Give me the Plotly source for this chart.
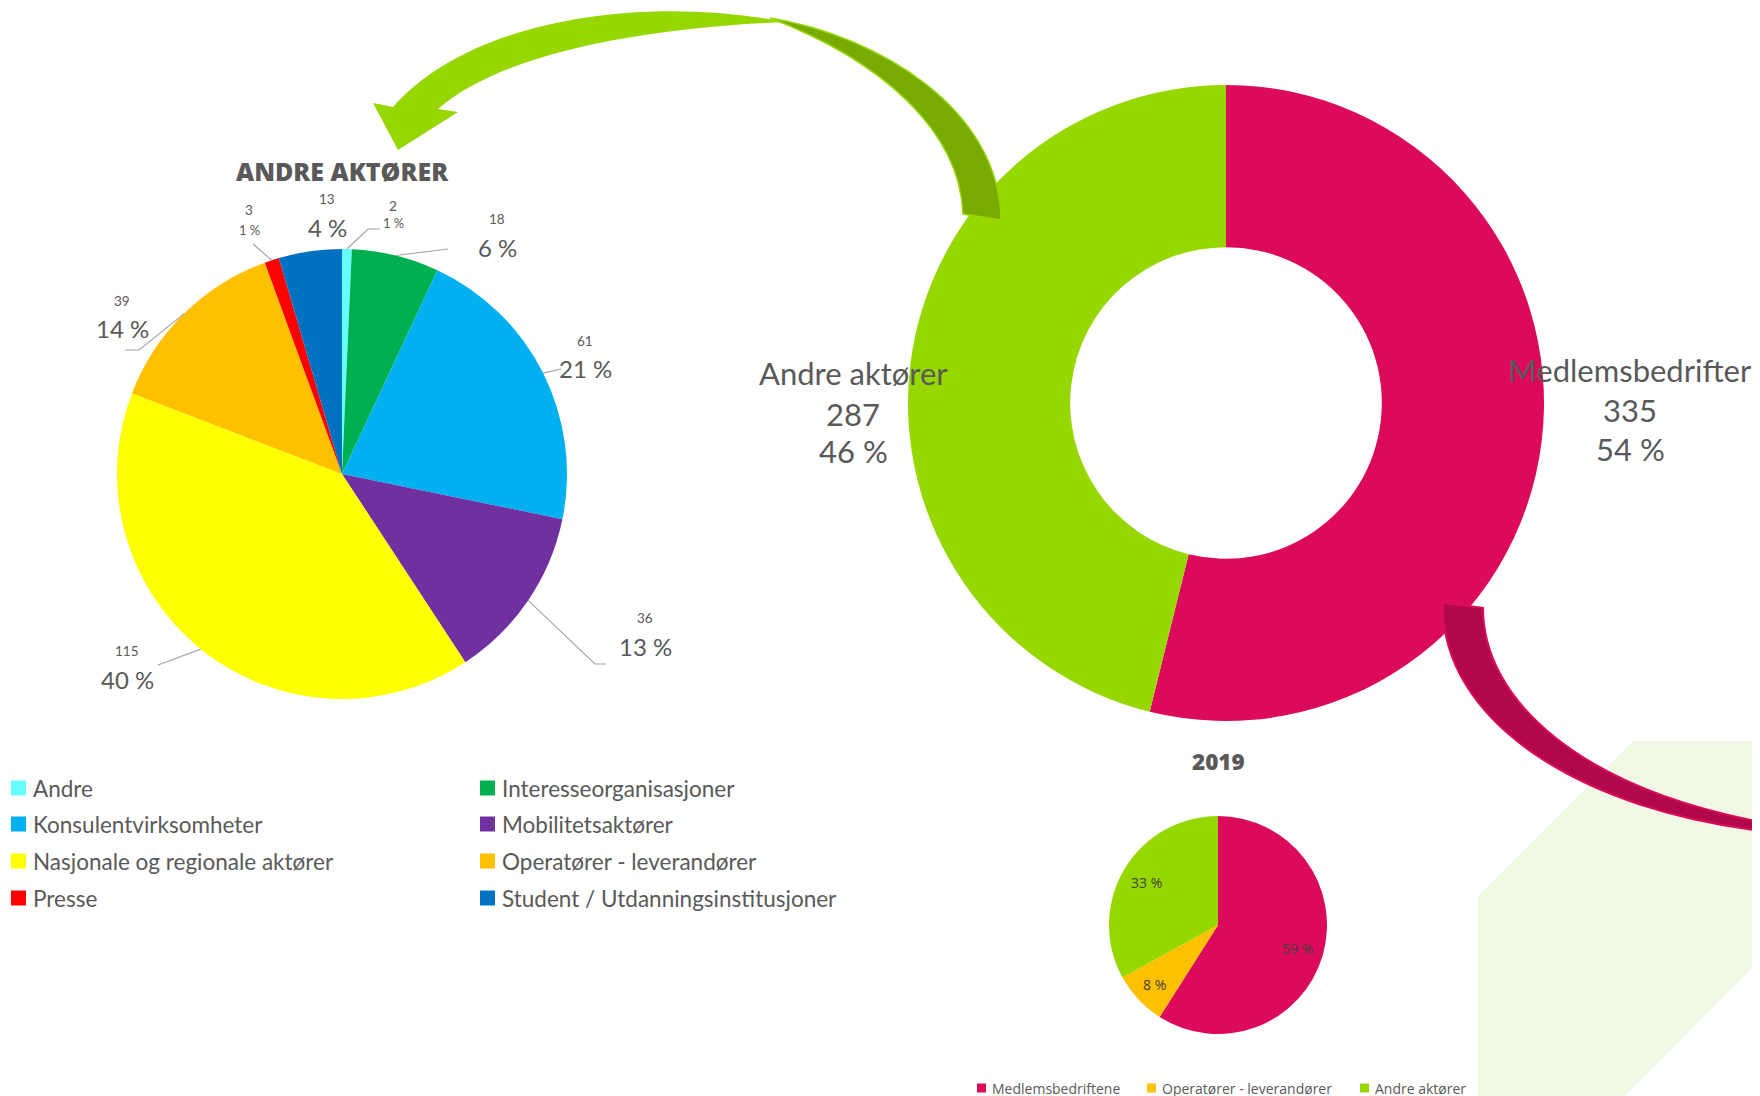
import math
import plotly.graph_objects as go

W, H = 1760, 1096
OFF = 8  # the page body margin that offsets the plot inside the window

# ---------------- data ----------------
andre_categories = ["Andre", "Interesseorganisasjoner", "Konsulentvirksomheter", "Mobilitetsaktører",
                    "Nasjonale og regionale aktører", "Operatører - leverandører", "Presse",
                    "Student / Utdanningsinstitusjoner"]
andre_values = [2, 18, 61, 36, 115, 39, 3, 13]
andre_pct_labels = [1, 6, 21, 13, 40, 14, 1, 4]
andre_colors = ["#66FFFF", "#00B050", "#00B0F0", "#7030A0", "#FFFF00", "#FFC000", "#FF0000", "#0070C0"]

total_categories = ["Medlemsbedrifter", "Andre aktører"]
total_values = [335, 287]
total_pct_labels = [54, 46]
total_colors = ["#DC0A5A", "#96D700"]

y2019_categories = ["Medlemsbedriftene", "Operatører - leverandører", "Andre aktører"]
y2019_values = [59, 8, 33]
y2019_colors = ["#DC0A5A", "#FFC000", "#96D700"]

# ---------------- geometry (window pixels) ----------------
LP = (342, 474, 225)    # left pie centre / radius
DN = (1226, 403, 318)   # donut
SP = (1218, 925, 109)   # 2019 pie

GRAY = "#595959"


def fx(x):
    return (x - OFF) / W


def fy(y):
    return 1 - (y - OFF) / H


def domain(c):
    cx, cy, r = c
    return dict(x=[fx(cx - r), fx(cx + r)], y=[fy(cy + r), fy(cy - r)])


def mid_angles(values):
    tot = float(sum(values))
    acc = 0.0
    out = []
    for v in values:
        out.append((acc + v / 2.0) / tot * 360.0)
        acc += v
    return out


def polar(c, ang, frac=1.0):
    cx, cy, r = c
    a = math.radians(ang)
    return (cx + r * frac * math.sin(a), cy - r * frac * math.cos(a))


def path(cmds):
    parts = []
    for c in cmds:
        if c[0] == "Z":
            parts.append("Z")
            continue
        pts = " ".join(f"{fx(x):.5f},{fy(y):.5f}" for x, y in c[1:])
        parts.append(f"{c[0]} {pts}")
    return " ".join(parts)


fig = go.Figure()

fig.add_trace(go.Pie(labels=andre_categories, values=andre_values, marker=dict(colors=andre_colors, line=dict(width=0)),
                     sort=False, direction="clockwise", rotation=0, textinfo="none", domain=domain(LP),
                     showlegend=False, hoverinfo="label+value+percent"))
fig.add_trace(go.Pie(labels=total_categories, values=total_values, hole=0.49,
                     marker=dict(colors=total_colors, line=dict(width=0)),
                     sort=False, direction="clockwise", rotation=0, textinfo="none", domain=domain(DN),
                     showlegend=False, hoverinfo="label+value+percent"))
fig.add_trace(go.Pie(labels=y2019_categories, values=y2019_values,
                     marker=dict(colors=y2019_colors, line=dict(width=0)),
                     sort=False, direction="clockwise", rotation=0, textinfo="none", domain=domain(SP),
                     showlegend=False, hoverinfo="label+percent"))

shapes = []
annotations = []


def ann(x, y, text, size, family="Lato", color=GRAY, weight="normal", xanchor="center"):
    annotations.append(dict(x=fx(x), y=fy(y), xref="paper", yref="paper", text=text, showarrow=False,
                            xanchor=xanchor, yanchor="middle",
                            font=dict(family=family, size=size, color=color, weight=weight)))


# background decorative shape
shapes.append(dict(type="path", xref="paper", yref="paper", layer="below", fillcolor="#F1F8E6", line=dict(width=0),
                   path=path([("M", (1633, 741)), ("L", (1770, 741)), ("L", (1770, 950)), ("L", (1615, 1106)),
                              ("L", (1478, 1106)), ("L", (1478, 896)), ("Z",)])))

# green curved arrow (light front part)
shapes.append(dict(type="path", xref="paper", yref="paper", layer="above", fillcolor="#96D700", line=dict(width=0),
                   path=path([("M", (786, 22)), ("C", (640, -6), (470, 20), (393, 107)), ("L", (373, 103)),
                              ("L", (398, 150)), ("L", (458, 112)), ("L", (438, 109)),
                              ("C", (500, 54), (640, 28), (786, 22)), ("Z",)])))
# green curved arrow (dark back part)
shapes.append(dict(type="path", xref="paper", yref="paper", layer="above", fillcolor="#78AA00",
                   line=dict(width=1.5, color="#96D700"),
                   path=path([("M", (770, 18)), ("C", (880, 36), (1000, 110), (1001, 220)), ("L", (963, 214)),
                              ("C", (960, 130), (880, 60), (770, 18)), ("Z",)])))
# crimson curved arrow
shapes.append(dict(type="path", xref="paper", yref="paper", layer="above", fillcolor="#B0084A",
                   line=dict(width=2, color="#DC0A5A"),
                   path=path([("M", (1443, 603)), ("L", (1483, 608)), ("C", (1483, 700), (1580, 790), (1772, 824)),
                              ("L", (1772, 832)), ("C", (1580, 812), (1440, 720), (1443, 603)), ("Z",)])))

# ---------------- left pie labels ----------------
ann(342, 171, "ANDRE AKTØRER", 25, family="Open Sans", weight=800)

# (x, y value, y pct, pct font size, leader points after the slice edge)
label_layout = [
    (393, 206, 223, 13, [(368, 229), (380, 229)]),
    (497, 219, 247, 24, [(448, 249)]),
    (585, 341, 369, 24, [(561, 369)]),
    (645, 618, 646, 24, [(595, 664), (606, 664)]),
    (127, 651, 679, 24, [(158, 665)]),
    (122, 301, 328, 24, [(139, 350), (125, 350)]),
    (249, 210, 230, 13, [(253, 244)]),
    (327, 199, 227, 24, []),
]
angles = mid_angles(andre_values)
for v, p, ang, lay in zip(andre_values, andre_pct_labels, angles, label_layout):
    x, yv, yp, ps, leader = lay
    ann(x, yv, str(v), 13.5)
    ann(x, yp, f"{p} %", ps)
    if leader:
        pts = [polar(LP, ang)] + leader
        cmds = [("M", pts[0])] + [("L", q) for q in pts[1:]]
        shapes.append(dict(type="path", xref="paper", yref="paper", layer="above",
                           line=dict(color="#A6A6A6", width=1.2), path=path(cmds)))

# manual two-column legend
for i, (cat, col) in enumerate(zip(andre_categories, andre_colors)):
    row, c = divmod(i, 2)
    mx = [11, 480][c]
    my = [788, 824, 861, 898][row]
    shapes.append(dict(type="rect", xref="paper", yref="paper", x0=fx(mx), x1=fx(mx + 15), y0=fy(my - 7.5),
                       y1=fy(my + 7.5), fillcolor=col, line=dict(width=0)))
    ann(mx + 20, my, cat, 22.5, xanchor="left")

# ---------------- donut labels ----------------
ann(853, 373, total_categories[1], 31)
ann(853, 414, str(total_values[1]), 31)
ann(853, 451, f"{total_pct_labels[1]} %", 31)
ann(1630, 370, total_categories[0], 31)
ann(1630, 410, str(total_values[0]), 31)
ann(1630, 449, f"{total_pct_labels[0]} %", 31)

# ---------------- 2019 pie ----------------
ann(1218, 761, "2019", 22.5, family="Open Sans", weight=800)
for v, ang, frac in zip(y2019_values, mid_angles(y2019_values), [0.76, 0.8, 0.76]):
    px, py = polar(SP, ang, frac)
    ann(px, py, f"{v} %", 14, family="Open Sans", color="#404040")

for cat, col, mx in zip(y2019_categories, y2019_colors, [977, 1147, 1360]):
    shapes.append(dict(type="rect", xref="paper", yref="paper", x0=fx(mx), x1=fx(mx + 9), y0=fy(1092.5),
                       y1=fy(1083.5), fillcolor=col, line=dict(width=0)))
    ann(mx + 13, 1088, cat, 14, family="Open Sans", xanchor="left")

fig.update_layout(width=W, height=H, margin=dict(l=0, r=0, t=0, b=0), paper_bgcolor="white",
                  plot_bgcolor="white", showlegend=False, shapes=shapes, annotations=annotations,
                  xaxis=dict(visible=False), yaxis=dict(visible=False))

fig.write_html("out.html")
